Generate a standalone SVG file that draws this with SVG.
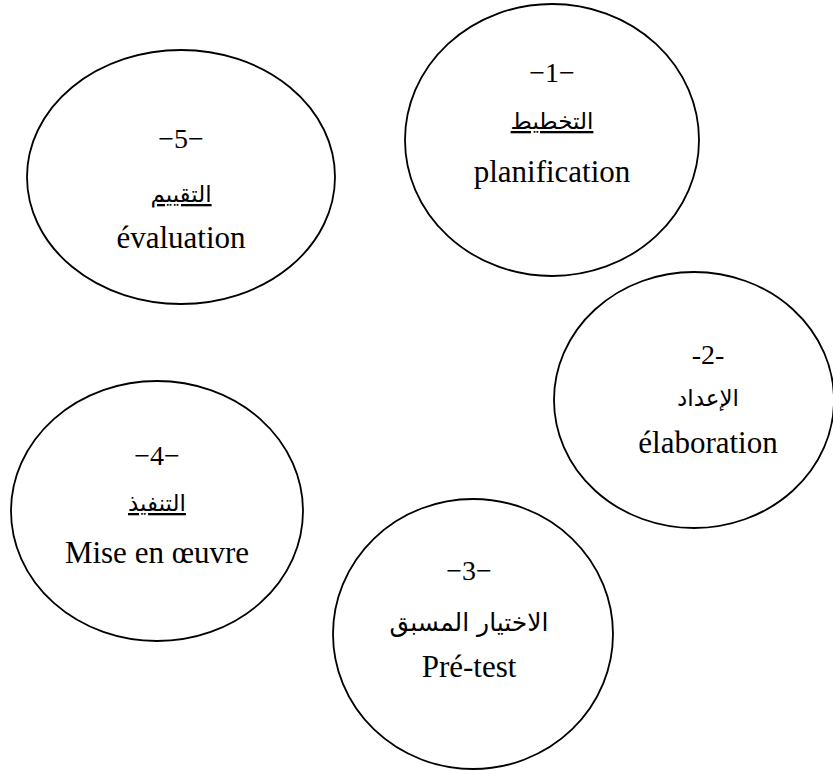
<svg xmlns="http://www.w3.org/2000/svg" width="833" height="771" viewBox="0 0 833 771">
<style>
.e{fill:none;stroke:#000;stroke-width:1.8}
.t{font-family:'Liberation Serif','Times New Roman',serif;font-size:31px;fill:#000;text-anchor:middle}
.n{font-family:'Liberation Serif','Times New Roman',serif;font-size:28px;fill:#000;text-anchor:middle}
.a{font-family:'DejaVu Sans',sans-serif;font-size:23px;fill:#000;text-anchor:middle}
.u{text-decoration:underline}
</style>
<rect width="833" height="771" fill="#fff"/>
<g id="connectors"></g>
<g id="node1">
<ellipse class="e" cx="552" cy="140" rx="147" ry="136"/>
<text class="n" x="552" y="82">−1−</text>
<text class="a u" x="552" y="129" direction="rtl">التخطيط</text>
<text class="t" x="552" y="182">planification</text>
</g>
<g id="node5">
<ellipse class="e" cx="181" cy="177" rx="154" ry="127"/>
<text class="n" x="181" y="148">−5−</text>
<text class="a u" x="181" y="202" direction="rtl">التقييم</text>
<text class="t" x="181" y="248">évaluation</text>
</g>
<g id="node2">
<ellipse class="e" cx="694" cy="400" rx="140" ry="128"/>
<text class="n" x="708" y="364">-2-</text>
<text class="a" x="708" y="406" direction="rtl">الإعداد</text>
<text class="t" x="708" y="453">élaboration</text>
</g>
<g id="node4">
<ellipse class="e" cx="157" cy="511" rx="146" ry="130"/>
<text class="n" x="157" y="465">−4−</text>
<text class="a u" x="157" y="511" direction="rtl">التنفيذ</text>
<text class="t" x="157" y="563">Mise en œuvre</text>
</g>
<g id="node3">
<ellipse class="e" cx="473" cy="634" rx="140" ry="135"/>
<text class="n" x="469" y="580">−3−</text>
<text class="a" x="469" y="631" direction="rtl" style="font-size:25px">الاختيار المسبق</text>
<text class="t" x="469" y="677">Pré-test</text>
</g>
</svg>
